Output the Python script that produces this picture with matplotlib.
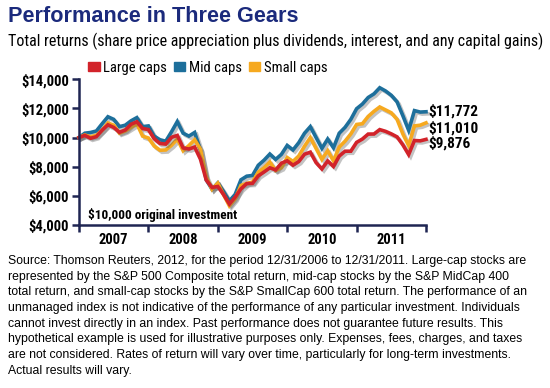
"""
Performance in Three Gears - growth of $10,000, large / mid / small caps
"""
import matplotlib
matplotlib.use('Agg')
import matplotlib.pyplot as plt
import matplotlib.patheffects as pe
from matplotlib import font_manager
from matplotlib.patches import Patch

# data: month-end values, 12/2006 .. 12/2011
large_caps = [10000,
              10151, 9952, 10064, 10510, 10877, 10696, 10364, 10520, 10913, 11087, 10623, 10549,
              9917, 9595, 9553, 10018, 10148, 9293, 9215, 9348, 8515, 7085, 6577, 6646,
              6086, 5438, 5915, 6480, 6842, 6856, 7375, 7641, 7926, 7779, 8246, 8405,
              8103, 8354, 8858, 8998, 8279, 7846, 8395, 8016, 8732, 9064, 9065, 9671,
              9900, 10240, 10244, 10547, 10428, 10254, 10046, 9500, 8833, 9798, 9776, 9876]
mid_caps = [10000,
            10300, 10350, 10450, 10950, 11430, 11250, 10750, 10850, 11150, 11370, 10750, 10800,
            10100, 9850, 9750, 10400, 11100, 10300, 10100, 10350, 9150, 7100, 6450, 6886,
            6300, 5650, 6100, 7100, 7350, 7400, 8100, 8450, 8870, 8500, 8850, 9460,
            9150, 9650, 10300, 10750, 10000, 9260, 9900, 9300, 10300, 10700, 11250, 11980,
            12300, 12750, 13000, 13420, 13200, 12900, 12450, 11500, 10500, 11850, 11750, 11772]
small_caps = [10000,
              10180, 10050, 10150, 10500, 11000, 10850, 10300, 10450, 10700, 10950, 10100, 9970,
              9420, 9130, 9150, 9470, 9900, 9100, 9450, 9850, 9200, 7300, 6450, 6872,
              6075, 5315, 5790, 6715, 6850, 6945, 7625, 7930, 8320, 7735, 7930, 8629,
              8360, 8740, 9410, 10000, 9250, 8500, 9100, 8400, 9350, 9750, 10250, 10900,
              10950, 11450, 11800, 12100, 11900, 11700, 11250, 10250, 9450, 10800, 10850, 11010]
years = ['2007', '2008', '2009', '2010', '2011']
y_ticks = [4000, 6000, 8000, 10000, 12000, 14000]
end_labels = ['$11,772', '$11,010', '$9,876']

RED = '#d2232a'
BLUE = '#1d6f9b'
ORANGE = '#f6a91f'
NAVY = '#1b2a7c'
AXIS = '#1f2552'

# a narrow sans if one is installed
names = {f.name for f in font_manager.fontManager.ttflist}
NARROW = 'DejaVu Sans'
for cand in ['Liberation Sans Narrow', 'Roboto Condensed', 'DejaVu Sans Condensed', 'Noto Sans']:
    if cand in names:
        NARROW = cand
        break
plt.rcParams['font.family'] = ['Liberation Sans', 'DejaVu Sans']

fig = plt.figure(figsize=(5.5, 3.88), dpi=100)
fig.patch.set_facecolor('white')
ax = fig.add_axes([79 / 550, 1 - 225 / 388, 347 / 550, 145.7 / 388])

x = list(range(len(large_caps)))
shadow = [pe.SimpleLineShadow(offset=(1.5, -1.5), shadow_color='#555555', alpha=0.35), pe.Normal()]
for vals, col, lab in [(mid_caps, BLUE, 'Mid caps'), (small_caps, ORANGE, 'Small caps'),
                       (large_caps, RED, 'Large caps')]:
    ax.plot(x, vals, color=col, lw=2.6, solid_joinstyle='miter', path_effects=shadow,
            label=lab, clip_on=False)

ax.set_xlim(0, 60)
ax.set_ylim(4000, 14000)
for s in ['top', 'right']:
    ax.spines[s].set_visible(False)
for s in ['left', 'bottom']:
    ax.spines[s].set_color(AXIS)
    ax.spines[s].set_linewidth(1.8)

ax.set_yticks(y_ticks)
ax.set_yticklabels([f'${v:,}' for v in y_ticks], fontfamily=NARROW, fontweight='bold', fontsize=10.5)
ax.set_xticks(range(0, 61, 12))
ax.set_xticklabels([])
ax.set_xticks([6, 18, 30, 42, 54], minor=True)
ax.set_xticklabels(years, minor=True, fontfamily=NARROW, fontweight='bold', fontsize=10.5)
ax.tick_params(axis='both', which='major', direction='out', length=5, width=1.8, color=AXIS, pad=2)
ax.tick_params(axis='x', which='minor', length=0, pad=6)

ax.text(0.025, 0.07, '$10,000 original investment', transform=ax.transAxes,
        fontfamily=NARROW, fontweight='bold', fontsize=9.5, va='center')

# values at the right end
for vals, lab, dy in [(mid_caps, end_labels[0], 0), (small_caps, end_labels[1], -4),
                      (large_caps, end_labels[2], -3)]:
    ax.annotate(lab, xy=(60, vals[-1]), xytext=(1.5, dy), textcoords='offset points',
                fontfamily=NARROW, fontweight='bold', fontsize=11, va='center',
                annotation_clip=False)

handles = [Patch(color=RED, label='Large caps'), Patch(color=BLUE, label='Mid caps'),
           Patch(color=ORANGE, label='Small caps')]
fig.legend(handles=handles, loc='center left', bbox_to_anchor=(88 / 550, 1 - 68 / 388), ncol=3,
           frameon=False, handlelength=0.8, handleheight=0.55, handletextpad=0.25,
           columnspacing=0.45, borderaxespad=0, borderpad=0,
           prop={'family': NARROW, 'size': 10.5})

fig.text(8 / 550, 1 - 16 / 388, 'Performance in Three Gears', color=NAVY, fontweight='bold',
         fontsize=15.6, va='center', ha='left')
fig.text(8 / 550, 1 - 41 / 388,
         'Total returns (share price appreciation plus dividends, interest, and any capital gains)',
         fontfamily=NARROW, fontsize=11.55, va='center', ha='left')

note = ("Source: Thomson Reuters, 2012, for the period 12/31/2006 to 12/31/2011. Large-cap stocks are\n"
        "represented by the S&P 500 Composite total return, mid-cap stocks by the S&P MidCap 400\n"
        "total return, and small-cap stocks by the S&P SmallCap 600 total return. The performance of an\n"
        "unmanaged index is not indicative of the performance of any particular investment. Individuals\n"
        "cannot invest directly in an index. Past performance does not guarantee future results. This\n"
        "hypothetical example is used for illustrative purposes only. Expenses, fees, charges, and taxes\n"
        "are not considered. Rates of return will vary over time, particularly for long-term investments.\n"
        "Actual results will vary.")
fig.text(8 / 550, 1 - 255 / 388, note, fontsize=8.85, va='top', ha='left', linespacing=1.41)

fig.savefig('out.png', dpi=100, facecolor='white')
